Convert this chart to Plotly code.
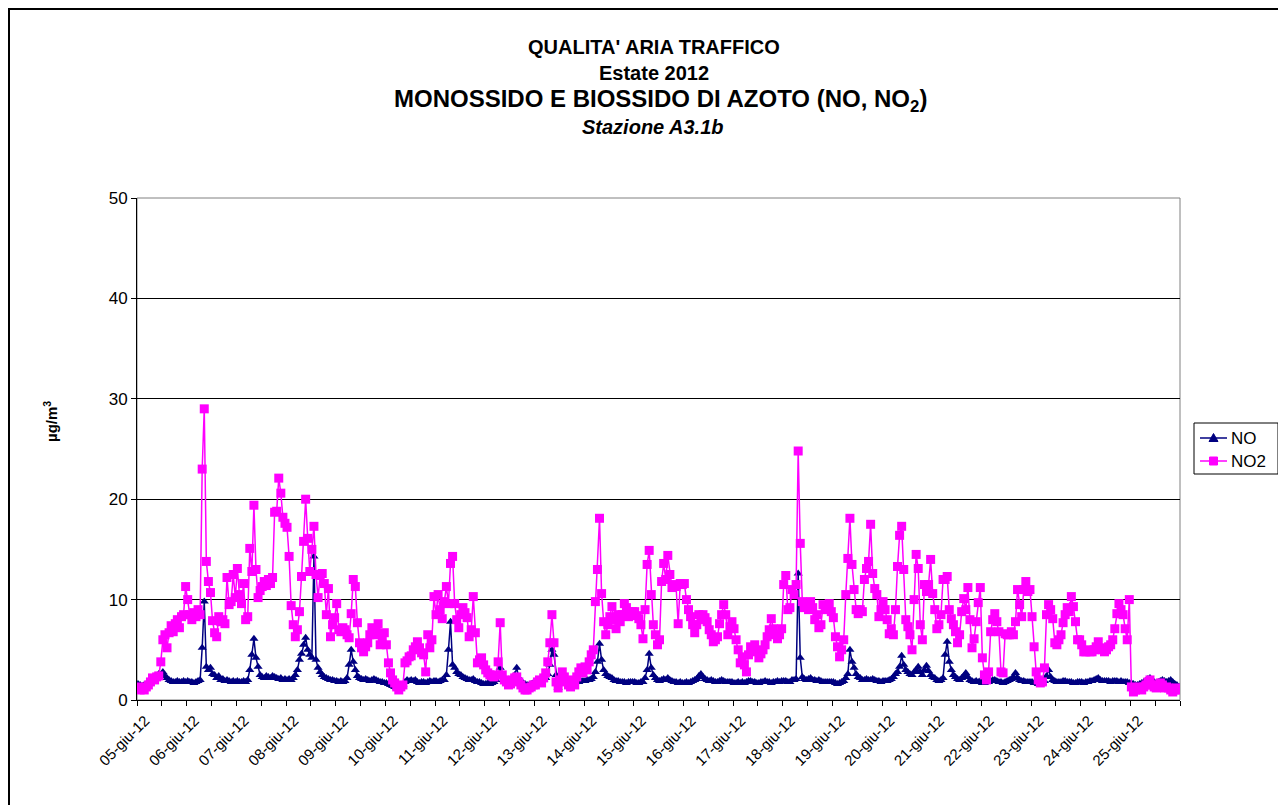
import plotly.graph_objects as go

day_labels = ["05-giu-12", "06-giu-12", "07-giu-12", "08-giu-12", "09-giu-12", "10-giu-12",
              "11-giu-12", "12-giu-12", "13-giu-12", "14-giu-12", "15-giu-12", "16-giu-12",
              "17-giu-12", "18-giu-12", "19-giu-12", "20-giu-12", "21-giu-12", "22-giu-12",
              "23-giu-12", "24-giu-12", "25-giu-12"]

series_names = ["NO", "NO2"]

# hourly NO values (µg/m3), one row per day (24 h)
no_values = [
    1.6, 1.5, 1.4, 1.5, 1.6, 1.7, 1.8, 2.0, 2.2, 2.4, 2.6, 2.5, 2.8, 2.4, 2.2, 2.0, 1.9, 1.8, 1.8, 1.9, 1.8, 1.8, 1.9, 1.8,
    1.9, 1.8, 1.8, 1.7, 1.8, 1.9, 2.0, 5.2, 9.8, 3.3, 3.0, 3.2, 2.6, 2.5, 2.2, 2.4, 2.0, 2.1, 1.9, 2.0, 1.9, 1.8, 1.9, 1.8,
    1.9, 1.8, 1.8, 1.9, 1.8, 2.0, 3.0, 4.5, 6.1, 4.2, 3.3, 2.5, 2.3, 2.2, 2.4, 2.3, 2.2, 2.4, 2.3, 2.2, 2.1, 2.2, 2.0, 2.1,
    2.0, 2.1, 2.0, 2.2, 2.5, 3.0, 4.0, 4.6, 5.5, 6.2, 5.0, 4.5, 4.2, 14.3, 4.0, 3.2, 2.8, 2.5, 2.3, 2.2, 2.1, 2.0, 2.0, 1.9,
    1.9, 1.8, 1.9, 1.8, 1.9, 2.2, 3.5, 5.0, 3.8, 3.0, 2.4, 2.2, 2.1, 2.0, 2.1, 2.0, 1.9, 2.0, 2.1, 2.0, 1.9, 1.8, 1.8, 1.7,
    1.7, 1.6, 1.5, 1.4, 1.3, 1.2, 1.2, 1.3, 1.5, 1.8, 2.0, 1.9, 2.0, 1.9, 2.0, 1.8, 1.7, 1.8, 1.8, 1.7, 1.8, 1.9, 1.8, 1.9,
    1.9, 1.8, 1.9, 2.0, 2.0, 2.5, 5.0, 7.8, 3.5, 3.2, 2.8, 2.6, 2.5, 2.3, 2.2, 2.1, 2.0, 2.0, 2.1, 1.9, 1.8, 1.8, 1.7, 1.6,
    1.6, 1.7, 1.6, 1.7, 1.8, 2.0, 2.5, 3.2, 2.3, 2.0, 1.8, 1.7, 1.8, 2.0, 2.5, 3.2, 2.2, 1.9, 1.7, 1.6, 1.5, 1.5, 1.6, 1.7,
    1.7, 1.8, 1.8, 1.9, 2.0, 2.2, 2.6, 3.5, 5.0, 4.5, 2.5, 1.2, 1.8, 2.0, 1.9, 1.8, 1.7, 1.6, 1.7, 1.7, 1.8, 1.8, 1.9, 1.9,
    1.9, 2.0, 2.0, 2.1, 2.3, 2.8, 3.8, 5.6, 4.0, 3.0, 2.6, 2.4, 2.3, 2.2, 2.0, 1.9, 1.9, 1.8, 1.8, 1.8, 1.7, 1.8, 1.8, 1.8,
    1.8, 1.7, 1.7, 1.8, 1.8, 2.2, 3.0, 4.6, 3.2, 2.5, 2.2, 2.0, 1.9, 2.0, 2.1, 2.0, 2.2, 2.0, 1.9, 1.8, 1.8, 1.7, 1.8, 1.7,
    1.7, 1.8, 1.7, 1.8, 1.9, 2.0, 2.1, 2.4, 2.6, 2.3, 2.1, 2.0, 1.9, 2.0, 1.9, 1.8, 1.8, 1.9, 2.0, 1.9, 1.8, 1.8, 1.8, 1.8,
    1.7, 1.7, 1.8, 1.7, 1.8, 1.7, 1.8, 1.9, 1.9, 1.8, 1.8, 1.7, 1.7, 1.8, 1.8, 1.9, 1.8, 1.8, 1.7, 1.8, 1.8, 1.9, 1.8, 1.9,
    1.9, 1.9, 1.8, 1.8, 2.0, 2.0, 2.1, 12.6, 4.2, 2.3, 2.1, 2.0, 2.1, 2.2, 2.0, 2.0, 1.9, 2.0, 1.9, 1.8, 1.8, 1.8, 1.8, 1.8,
    1.8, 1.7, 1.6, 1.7, 1.8, 1.9, 2.2, 2.6, 5.0, 3.8, 3.2, 2.6, 2.3, 2.2, 2.0, 2.0, 2.1, 2.0, 2.0, 2.1, 2.0, 1.9, 1.9, 1.8,
    1.9, 1.9, 1.9, 2.0, 2.1, 2.3, 2.6, 2.8, 3.3, 4.4, 3.5, 3.0, 2.8, 2.6, 2.5, 2.8, 3.0, 3.3, 2.8, 2.5, 3.0, 3.4, 2.9, 2.5,
    2.3, 2.2, 2.0, 1.9, 2.0, 2.2, 4.5, 5.8, 3.8, 3.0, 2.5, 2.3, 2.1, 2.0, 2.2, 2.4, 2.7, 2.3, 2.0, 1.9, 1.8, 1.9, 1.8, 1.9,
    1.7, 1.7, 1.8, 1.8, 1.9, 2.0, 2.0, 1.9, 1.8, 1.8, 1.7, 1.8, 1.9, 2.0, 2.1, 2.3, 2.7, 2.2, 2.0, 1.9, 1.9, 1.8, 1.8, 1.8,
    1.8, 1.7, 1.7, 1.6, 1.6, 1.7, 1.9, 2.4, 3.0, 2.3, 2.0, 1.9, 1.8, 1.8, 1.8, 1.9, 1.9, 1.8, 1.8, 1.8, 1.7, 1.7, 1.8, 1.8,
    1.8, 1.7, 1.8, 1.8, 1.9, 1.9, 2.0, 2.1, 2.2, 2.0, 1.9, 1.9, 1.9, 1.9, 1.8, 1.9, 1.9, 1.9, 1.8, 1.9, 1.8, 1.8, 1.8, 1.7,
    1.7, 1.6, 1.5, 1.5, 1.6, 1.7, 1.8, 1.9, 2.1, 2.2, 1.9, 1.8, 1.7, 1.8, 1.9, 2.0, 1.9, 1.8, 1.9, 2.0, 1.8, 1.6, 1.5, 1.3,
]

# hourly NO2 values (µg/m3), one row per day (24 h)
no2_values = [
    1.3, 1.0, 1.2, 1.0, 1.3, 1.5, 1.8, 2.2, 2.0, 2.3, 2.4, 3.8, 6.0, 6.5, 5.2, 6.7, 7.4, 6.8, 7.6, 8.0, 7.2, 8.3, 8.5, 11.3,
    10.0, 8.5, 8.0, 8.7, 8.3, 9.0, 8.5, 23.0, 29.0, 13.8, 11.8, 10.7, 7.9, 6.7, 6.3, 8.3, 7.8, 8.0, 7.6, 12.2, 9.5, 9.8, 12.5, 10.2,
    13.1, 10.5, 9.6, 11.6, 8.0, 8.3, 15.1, 12.8, 19.4, 13.0, 10.2, 10.9, 11.3, 11.8, 11.4, 12.0, 11.6, 12.2, 18.7, 18.8, 22.1, 20.6, 18.2, 17.6,
    17.2, 14.3, 9.4, 7.5, 6.3, 7.0, 8.8, 12.3, 15.8, 20.0, 16.1, 12.8, 15.0, 17.3, 12.5, 10.2, 12.4, 12.6, 11.6, 8.5, 11.1, 6.3, 7.5, 8.2,
    9.6, 7.0, 6.8, 7.2, 7.0, 6.5, 6.2, 8.6, 12.0, 11.3, 7.7, 5.7, 5.2, 4.8, 5.3, 5.7, 6.5, 7.2, 6.5, 6.8, 7.6, 5.5, 6.2, 6.7,
    5.5, 3.7, 2.7, 2.0, 1.7, 1.3, 1.0, 1.3, 1.5, 3.7, 3.9, 4.3, 4.4, 5.0, 5.3, 5.8, 5.2, 4.7, 4.5, 2.8, 6.5, 5.2, 6.0, 10.3,
    8.5, 10.5, 9.0, 8.1, 9.8, 11.3, 9.6, 13.6, 14.3, 9.6, 8.0, 7.2, 8.5, 9.2, 8.7, 8.2, 6.3, 7.0, 10.3, 6.7, 3.7, 4.0, 4.2, 3.5,
    3.0, 2.7, 2.5, 2.4, 2.3, 2.5, 3.8, 7.7, 2.5, 2.0, 1.8, 1.5, 1.6, 2.0, 2.2, 2.3, 1.8, 1.5, 1.2, 1.0, 1.0, 1.2, 1.3, 1.5,
    1.5, 1.8, 2.0, 1.7, 2.2, 2.7, 3.8, 5.7, 8.5, 5.7, 1.8, 1.2, 2.0, 2.8, 2.3, 1.8, 1.5, 1.3, 2.0, 1.5, 2.3, 2.8, 3.2, 2.7,
    3.3, 3.0, 3.8, 4.5, 5.0, 9.8, 13.0, 18.1, 10.6, 7.8, 6.5, 7.5, 8.3, 9.3, 8.0, 7.1, 8.5, 7.8, 8.5, 9.6, 9.2, 8.3, 8.6, 8.8,
    8.8, 8.4, 8.1, 7.5, 6.1, 9.0, 13.5, 14.9, 10.5, 7.5, 6.5, 5.5, 6.0, 11.8, 13.6, 12.0, 14.4, 12.5, 11.2, 11.5, 11.3, 7.6, 11.6, 11.5,
    11.6, 10.0, 9.0, 8.3, 7.5, 6.7, 7.5, 8.5, 8.0, 8.5, 8.2, 7.8, 7.0, 6.5, 5.8, 6.0, 6.3, 7.6, 8.5, 9.5, 8.5, 6.5, 7.3, 7.8,
    7.1, 6.0, 5.0, 3.7, 4.3, 3.5, 2.8, 4.5, 5.3, 5.0, 5.5, 4.8, 4.2, 4.6, 5.0, 5.5, 6.3, 7.0, 8.1, 7.1, 6.5, 6.1, 6.5, 7.1,
    11.5, 12.4, 9.0, 9.2, 11.0, 10.5, 11.5, 24.8, 15.6, 9.8, 9.2, 9.5, 9.0, 9.8, 9.2, 8.0, 8.5, 7.2, 7.5, 9.5, 9.0, 9.2, 9.6, 8.8,
    8.2, 6.3, 5.3, 4.3, 5.0, 6.0, 10.5, 14.1, 18.1, 13.5, 11.0, 9.0, 8.6, 9.0, 8.8, 12.0, 13.1, 13.8, 17.5, 12.6, 11.1, 10.5, 8.3, 9.0,
    9.8, 9.0, 8.0, 6.6, 7.1, 6.5, 9.0, 13.3, 16.4, 17.3, 13.0, 8.0, 7.3, 6.5, 5.0, 10.0, 14.5, 13.1, 7.5, 6.0, 11.5, 10.8, 11.5, 14.0,
    10.6, 9.0, 7.1, 7.5, 8.5, 12.0, 12.0, 12.3, 9.0, 8.1, 7.5, 6.8, 5.7, 6.5, 8.8, 10.1, 9.0, 11.2, 8.0, 5.2, 6.1, 7.8, 9.7, 11.2,
    4.2, 2.5, 2.0, 2.8, 6.8, 8.0, 8.6, 7.8, 6.8, 2.8, 2.7, 6.6, 6.5, 6.5, 6.8, 6.5, 7.8, 11.0, 9.5, 8.3, 11.0, 11.8, 10.8, 11.0,
    8.3, 5.3, 2.8, 2.0, 1.7, 1.8, 3.2, 8.5, 9.5, 9.0, 8.1, 5.7, 5.5, 6.0, 6.5, 7.7, 8.5, 9.2, 8.8, 10.3, 9.3, 7.8, 6.0, 6.0,
    5.5, 4.8, 4.8, 5.0, 4.8, 4.8, 5.0, 5.3, 5.8, 5.2, 5.0, 4.8, 5.0, 5.3, 5.5, 6.0, 7.1, 8.6, 9.6, 9.0, 8.5, 7.1, 6.0, 10.0,
    1.3, 0.8, 1.0, 1.2, 1.3, 1.0, 1.3, 1.5, 1.8, 2.0, 1.5, 1.3, 1.2, 1.5, 1.7, 1.5, 1.2, 1.3, 1.2, 1.0, 0.8, 1.0, 1.2, 1.0,
]

hours = list(range(len(no2_values)))
FONT = "Arial, Liberation Sans, sans-serif"
NO_COLOR = "#000080"
NO2_COLOR = "#FF00FF"

fig = go.Figure()
fig.add_trace(go.Scatter(
    x=hours, y=no_values, name=series_names[0], mode="lines+markers",
    line=dict(color=NO_COLOR, width=1.5),
    marker=dict(symbol="triangle-up", size=8, color=NO_COLOR),
))
fig.add_trace(go.Scatter(
    x=hours, y=no2_values, name=series_names[1], mode="lines+markers",
    line=dict(color=NO2_COLOR, width=1.5),
    marker=dict(symbol="square", size=9, color=NO2_COLOR),
))

# page has an 8 px body margin; positions below are given in screen pixels
OFF = 8
W, H = 1274, 800
L, T = 137 - OFF, 198 - OFF
R = W - (1180 - OFF)
B = H - (700 - OFF)
pw, ph = W - L - R, H - T - B

def px_x(p):
    return (p - OFF - L) / pw

def px_y(p):
    return (H - B - (p - OFF)) / ph

n = len(hours)
major = [-0.5 + 24 * d for d in range(len(day_labels))]
minor = [-0.5 + 12 * k for k in range(n // 12 + 1)]

shapes = [
    dict(type="rect", xref="paper", yref="paper", x0=0, x1=1, y0=0, y1=1,
         line=dict(color="#808080", width=1), layer="below"),
    dict(type="rect", xref="paper", yref="paper",
         x0=px_x(9), x1=px_x(1280), y0=px_y(830), y1=px_y(9),
         line=dict(color="black", width=2)),
    # legend box
    dict(type="rect", xref="paper", yref="paper",
         x0=px_x(1194), x1=px_x(1278), y0=px_y(474), y1=px_y(423),
         line=dict(color="black", width=1), fillcolor="white"),
]
# legend keys
for name, color, ypix, kind in [(series_names[0], NO_COLOR, 438, "tri"),
                                (series_names[1], NO2_COLOR, 461, "sq")]:
    shapes.append(dict(type="line", xref="paper", yref="paper",
                       x0=px_x(1200), x1=px_x(1227), y0=px_y(ypix), y1=px_y(ypix),
                       line=dict(color=color, width=1.5)))
    cxp = 1213.5
    if kind == "sq":
        shapes.append(dict(type="rect", xref="paper", yref="paper",
                           x0=px_x(cxp - 4), x1=px_x(cxp + 4), y0=px_y(ypix + 4), y1=px_y(ypix - 4),
                           line=dict(color=color, width=1), fillcolor=color))
    else:
        x_l, x_r, x_c = px_x(cxp - 4.5), px_x(cxp + 4.5), px_x(cxp)
        y_b, y_t = px_y(ypix + 3.5), px_y(ypix - 4.5)
        shapes.append(dict(type="path", xref="paper", yref="paper",
                           path=f"M {x_l},{y_b} L {x_r},{y_b} L {x_c},{y_t} Z",
                           line=dict(color=color, width=1), fillcolor=color))

fig.update_layout(
    width=W, height=H, autosize=False,
    margin=dict(l=L, r=R, t=T, b=B, pad=0),
    paper_bgcolor="white", plot_bgcolor="white",
    font=dict(family=FONT, color="black", size=16),
    showlegend=False,
    xaxis=dict(
        range=[-0.5, n - 0.5],
        tickmode="array", tickvals=major, ticktext=day_labels,
        tickangle=-45, ticks="outside", ticklen=5, tickcolor="black",
        tickfont=dict(family=FONT, size=15, color="black"),
        ticklabelshift=8,
        showgrid=False, zeroline=False,
        showline=True, linecolor="black", linewidth=1,
        minor=dict(tickvals=minor, ticks="outside", ticklen=5, tickcolor="black", showgrid=False),
    ),
    yaxis=dict(
        range=[0, 50], tickmode="linear", tick0=0, dtick=10,
        ticks="outside", ticklen=5, tickcolor="black",
        tickfont=dict(family=FONT, size=17, color="black"),
        showgrid=True, gridcolor="black", gridwidth=1,
        zeroline=False, showline=True, linecolor="black", linewidth=1,
    ),
    shapes=shapes,
)

titles = [
    ("<b>QUALITA' ARIA TRAFFICO</b>", 654, 47, 20),
    ("<b>Estate 2012</b>", 654, 73, 20),
    ("<b>MONOSSIDO E BIOSSIDO DI AZOTO (NO, NO<sub>2</sub>)</b>", 660, 101, 24),
    ("<b><i>Stazione A3.1b</i></b>", 653, 127, 20),
]
for text, xpix, ypix, size in titles:
    fig.add_annotation(x=px_x(xpix), y=px_y(ypix), xref="paper", yref="paper", text=text,
                       showarrow=False, xanchor="center", yanchor="middle",
                       font=dict(family=FONT, size=size, color="black"))

# legend labels
for name, ypix in [(series_names[0], 438), (series_names[1], 461)]:
    fig.add_annotation(x=px_x(1229), y=px_y(ypix), xref="paper", yref="paper", text=name,
                       showarrow=False, xanchor="left", yanchor="middle",
                       font=dict(family=FONT, size=17, color="black"))

fig.add_annotation(x=px_x(50), y=px_y(422), xref="paper", yref="paper",
                   text="<b>µg/m<sup>3</sup></b>", textangle=-90, showarrow=False,
                   xanchor="center", yanchor="middle",
                   font=dict(family=FONT, size=15, color="black"))

fig.write_html("out.html")
